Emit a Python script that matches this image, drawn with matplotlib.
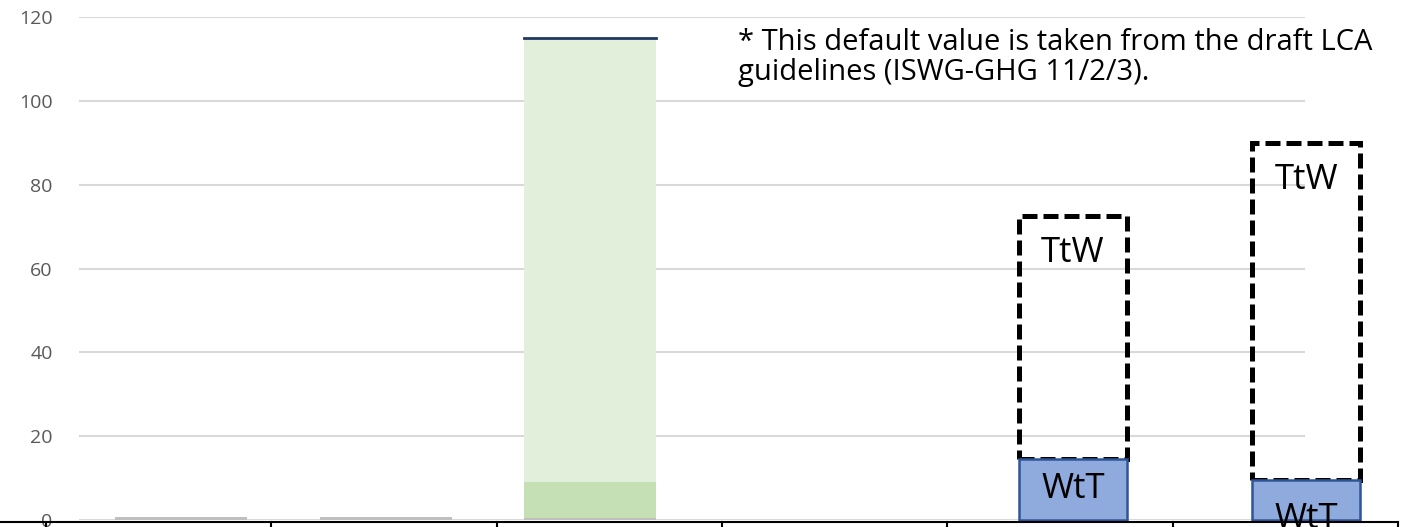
import numpy as np
import matplotlib
matplotlib.use("Agg")
import matplotlib.pyplot as plt
from matplotlib.lines import Line2D

plt.rcParams['font.family'] = ['Open Sans', 'DejaVu Sans']

# data
n_slots = 6
grey_slots = [0, 1, 2]
grey_vals = [0.7, 0.7, 0.5]
green_slot = 2
green_dark = 8.6
green_total = 115
wtt_slots = [4, 5]
wtt_vals = [14.6, 9.5]
total_vals = [72.6, 90.0]
note = "* This default value is taken from the draft LCA\nguidelines (ISWG-GHG 11/2/3)."

# layout: shift of each bar inside its slot
grey_shift = [0.10, 0.01, -0.085]
wtt_shift = [0.058, 0.093]

fig = plt.figure(figsize=(14.14, 5.27), dpi=100)
W, H = 1414, 527
ax = fig.add_axes([79 / W, (527 - 520) / H, (1305 - 79) / W, (520 - 17) / H])
ax.set_xlim(-0.3535, 5.088)
ax.set_ylim(0, 120)

# gridlines
for v in range(0, 121, 20):
    ax.axhline(v, color='#d9d9d9', lw=1.5, zorder=0)

# grey bars
gx = np.array(grey_slots) + np.array(grey_shift)
ax.bar(gx, grey_vals, width=0.586, color='#bfbfbf', zorder=3)

# green stacked bar
gs = green_slot + grey_shift[2]
ax.bar(gs, green_dark, width=0.586, bottom=grey_vals[2], color='#c5e0b4', zorder=2)
ax.bar(gs, green_total - green_dark - grey_vals[2], width=0.586,
       bottom=grey_vals[2] + green_dark, color='#e2efda', zorder=2)
ax.plot([gs - 0.293, gs + 0.293], [green_total, green_total], color='#203864', lw=2, zorder=4)

# WtT / TtW bars
wx = np.array(wtt_slots) + np.array(wtt_shift)
for x, w, t in zip(wx, wtt_vals, total_vals):
    ax.bar(x, t - w, width=0.479, bottom=w, facecolor='none', edgecolor='black',
           lw=3.6, linestyle=(0, (3.0, 1.2)), zorder=4, clip_on=False)
    ax.bar(x, w, width=0.479, color='#8faadc', edgecolor='#2f5597', lw=1.8, zorder=5,
           clip_on=False)
    ax.text(x, t - 9.0, 'TtW', ha='center', va='center', fontsize=25, color='black', zorder=6)
ax.text(wx[0], wtt_vals[0] / 2, 'WtT', ha='center', va='center', fontsize=25, zorder=6)
ax.text(wx[1], 0.2, 'WtT', ha='center', va='center', fontsize=25, zorder=6, clip_on=False)

ax.text(738 / W, (527 - 80) / H, note, transform=fig.transFigure, fontsize=21,
        ha='left', va='baseline', linespacing=1.05)

ax.set_yticks(range(0, 121, 20))
ax.tick_params(axis='y', length=0, pad=19, labelsize=14, labelcolor='#595959')
ax.set_xticks([])
for s in ax.spines.values():
    s.set_visible(False)

# bottom black axis with slot separators
y_ax = (527 - 522) / H
fig.add_artist(Line2D([0, 1398 / W], [y_ax, y_ax], color='black', lw=1.5))
for k in range(n_slots + 1):
    xp = (46 + k * 225.3) / W
    fig.add_artist(Line2D([xp, xp], [y_ax, 0], color='black', lw=1.5))

fig.savefig('out.png', dpi=100)
